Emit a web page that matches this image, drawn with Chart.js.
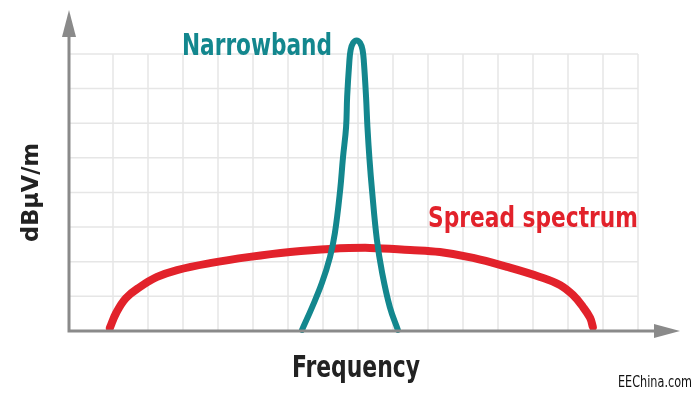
<!DOCTYPE html>
<html>
<head>
<meta charset="utf-8">
<script src="https://cdn.jsdelivr.net/npm/chart.js@4/dist/chart.umd.min.js"></script>
<style>
  html, body { margin: 0; padding: 0; background: #fff; }
  #wrap { width: 700px; height: 393px; }
</style>
</head>
<body>
<div id="wrap"><canvas id="spectrum-chart" width="700" height="393"></canvas></div>
<script>
// 협대역 (Narrowband) 곡선
const narrowX = [6.4, 6.69, 6.97, 7.2, 7.34, 7.49, 7.57, 7.66, 7.69, 7.75, 7.79, 7.86, 7.96, 8.06, 8.13, 8.17, 8.23, 8.27, 8.33, 8.4, 8.54, 8.69, 8.91, 9.14];
const narrowY = [0.03, 0.69, 1.39, 2.14, 2.83, 4.07, 5.0, 5.89, 6.76, 7.74, 8.12, 8.32, 8.39, 8.32, 8.12, 7.74, 6.76, 5.89, 4.94, 4.07, 2.63, 1.68, 0.69, 0.03];

// 확산 스펙트럼 (Spread spectrum) 곡선
const spreadX = [0.91, 1.09, 1.37, 1.77, 2.26, 2.83, 3.77, 4.91, 6.06, 7.2, 8.34, 9.49, 10.34, 11.29, 12.26, 13.2, 13.77, 14.14, 14.43, 14.63, 14.71];
const spreadY = [0.09, 0.52, 0.95, 1.27, 1.56, 1.76, 1.96, 2.14, 2.28, 2.37, 2.4, 2.34, 2.28, 2.11, 1.85, 1.56, 1.33, 1.04, 0.69, 0.38, 0.12];

// 격자 위치 (눈금 라벨 없음)
const gridX = [1, 2, 3, 4, 5, 6, 7, 8, 9, 10, 11, 12, 13, 14, 15, 16];
const gridY = [1, 2, 3, 4, 5, 6, 7, 8];

const xMin = -0.257, xMax = 17.2;
const yMin = 0, yMax = 9.27;

const teal = '#13878e';
const red = '#e2222b';
const axisGray = '#8a8a8a';

const toPoints = (xs, ys) => xs.map((x, i) => ({ x: x, y: ys[i] }));

// 격자선: 스케일 좌표로 그림
const gridPlugin = {
    id: 'paperGrid',
    beforeDatasetsDraw(chart) {
        const { ctx, scales: { x, y } } = chart;
        ctx.save();
        ctx.strokeStyle = '#e6e6e6';
        ctx.lineWidth = 1.5;
        const right = x.getPixelForValue(gridX[gridX.length - 1]);
        const top = y.getPixelForValue(gridY[gridY.length - 1]);
        gridX.forEach(v => {
            const px = x.getPixelForValue(v);
            ctx.beginPath();
            ctx.moveTo(px, top);
            ctx.lineTo(px, y.getPixelForValue(0));
            ctx.stroke();
        });
        gridY.forEach(v => {
            const py = y.getPixelForValue(v);
            ctx.beginPath();
            ctx.moveTo(x.getPixelForValue(xMin), py);
            ctx.lineTo(right, py);
            ctx.stroke();
        });
        ctx.restore();
    }
};

// 화살표 축
const axesPlugin = {
    id: 'arrowAxes',
    afterDatasetsDraw(chart) {
        const { ctx, scales: { x, y } } = chart;
        const x0 = x.getPixelForValue(xMin);
        const y0 = y.getPixelForValue(0);
        const xEnd = x.getPixelForValue(xMax);
        const yEnd = y.getPixelForValue(yMax);
        ctx.save();
        ctx.strokeStyle = axisGray;
        ctx.fillStyle = axisGray;
        ctx.lineWidth = 3;
        ctx.beginPath();
        ctx.moveTo(x0, yEnd + 26);
        ctx.lineTo(x0, y0);
        ctx.lineTo(xEnd - 25, y0);
        ctx.stroke();
        // y 화살표
        ctx.beginPath();
        ctx.moveTo(x0, yEnd);
        ctx.lineTo(x0 - 7, yEnd + 27);
        ctx.lineTo(x0 + 7, yEnd + 27);
        ctx.closePath();
        ctx.fill();
        // x 화살표
        ctx.beginPath();
        ctx.moveTo(xEnd, y0);
        ctx.lineTo(xEnd - 26, y0 - 7);
        ctx.lineTo(xEnd - 26, y0 + 7);
        ctx.closePath();
        ctx.fill();
        ctx.restore();
    }
};

// 글자를 주어진 폭에 맞춰 가로로 눌러 그림
function fitText(ctx, text, left, baseline, width) {
    const w = ctx.measureText(text).width;
    ctx.save();
    ctx.translate(left, baseline);
    ctx.scale(width / w, 1);
    ctx.textAlign = 'left';
    ctx.fillText(text, 0, 0);
    ctx.restore();
}

// 라벨
const labelPlugin = {
    id: 'curveLabels',
    afterDraw(chart) {
        const ctx = chart.ctx;
        const cond = '"DejaVu Sans Condensed", "DejaVu Sans", sans-serif';
        ctx.save();
        ctx.textBaseline = 'alphabetic';

        ctx.fillStyle = teal;
        ctx.font = 'bold 30px ' + cond;
        fitText(ctx, 'Narrowband', 182, 55, 150);

        ctx.fillStyle = red;
        ctx.font = 'bold 28px ' + cond;
        fitText(ctx, 'Spread spectrum', 428, 227, 210);

        ctx.fillStyle = '#222';
        ctx.font = 'bold 30px ' + cond;
        fitText(ctx, 'Frequency', 292, 377, 128);

        ctx.save();
        ctx.translate(38, 242);
        ctx.rotate(-Math.PI / 2);
        ctx.font = 'bold 23px ' + cond;
        fitText(ctx, 'dBµV/m', 0, 0, 99);
        ctx.restore();

        ctx.fillStyle = '#111';
        ctx.font = '15px "DejaVu Sans", sans-serif';
        fitText(ctx, 'EEChina.com', 618, 387, 74);
        ctx.restore();
    }
};

document.addEventListener('DOMContentLoaded', function() {
    const ctx = document.getElementById('spectrum-chart').getContext('2d');
    new Chart(ctx, {
        type: 'line',
        data: {
            datasets: [
                {
                    label: 'Narrowband',
                    data: toPoints(narrowX, narrowY),
                    borderColor: teal,
                    borderWidth: 6,
                    borderCapStyle: 'round',
                    borderJoinStyle: 'round',
                    tension: 0.4,
                    pointRadius: 0,
                    clip: false
                },
                {
                    label: 'Spread spectrum',
                    data: toPoints(spreadX, spreadY),
                    borderColor: red,
                    borderWidth: 8,
                    borderCapStyle: 'round',
                    borderJoinStyle: 'round',
                    tension: 0.4,
                    pointRadius: 0,
                    clip: false
                }
            ]
        },
        options: {
            responsive: false,
            animation: false,
            devicePixelRatio: 1,
            layout: { padding: { left: 69, right: 20, top: 10, bottom: 62 } },
            plugins: {
                legend: { display: false },
                tooltip: { enabled: false }
            },
            scales: {
                x: { type: 'linear', min: xMin, max: xMax, display: false },
                y: { type: 'linear', min: yMin, max: yMax, display: false }
            }
        },
        plugins: [gridPlugin, axesPlugin, labelPlugin]
    });
});
</script>
</body>
</html>
